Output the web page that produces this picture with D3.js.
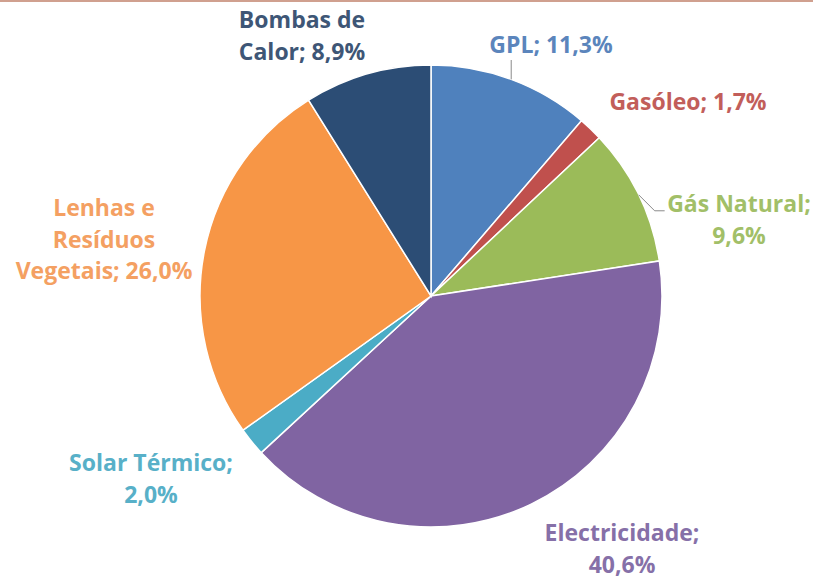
<!DOCTYPE html>
<html>
<head>
<meta charset="utf-8">
<script src="https://cdn.jsdelivr.net/npm/d3@7"></script>
<style>
	body { margin: 0; background: #fff; }
	svg { display: block; }
</style>
</head>
<body>
<div id="chart"></div>
<script>
var categories = ["GPL", "Gasóleo", "Gás Natural", "Electricidade", "Solar Térmico", "Lenhas e Resíduos Vegetais", "Bombas de Calor"];
var values = [11.3, 1.7, 9.6, 40.6, 2.0, 26.0, 8.9];
var valueLabels = ["11,3%", "1,7%", "9,6%", "40,6%", "2,0%", "26,0%", "8,9%"];
var colors = ["#4F81BD", "#C0504D", "#9BBB59", "#8064A2", "#4BACC6", "#F79646", "#2C4D75"];
var textColors = ["#5B85BC", "#C25E5A", "#A2BF68", "#8670A8", "#58B0C8", "#F4A062", "#3E5676"];

// label layout, as the labels were moved by hand in the original
var labelLines = [
	["GPL; 11,3%"],
	["Gasóleo; 1,7%"],
	["Gás Natural;", "9,6%"],
	["Electricidade;", "40,6%"],
	["Solar Térmico;", "2,0%"],
	["Lenhas e", "Resíduos", "Vegetais; 26,0%"],
	["Bombas de", "Calor; 8,9%"]
];
var labelAt = [[551, 53], [688, 110], [739, 212], [622, 541], [151, 471], [104, 216], [302, 28]];

var width = 813, height = 581;
var cx = 431, cy = 296, radius = 231;

var svg = d3.select("#chart").append("svg")
	.attr("width", width)
	.attr("height", height);

svg.append("line")
	.attr("x1", 0).attr("x2", width)
	.attr("y1", 1).attr("y2", 1)
	.attr("stroke", "#C0806A")
	.attr("stroke-width", 1.5);

var pie = d3.pie().sort(null).value(function(d) { return d; });
var arc = d3.arc().innerRadius(0).outerRadius(radius);
var arcs = pie(values);

var g = svg.append("g").attr("transform", "translate(" + cx + "," + cy + ")");

g.selectAll("path")
	.data(arcs)
	.enter().append("path")
	.attr("d", arc)
	.attr("fill", function(d, i) { return colors[i]; })
	.attr("stroke", "#fff")
	.attr("stroke-width", 1.5);

// leader lines for GPL and Gás Natural
function edgePoint(d, frac) {
	var a = d.startAngle + (d.endAngle - d.startAngle) * frac;
	return [cx + Math.sin(a) * radius, cy - Math.cos(a) * radius];
}
var gplEdge = edgePoint(arcs[0], 0.5);
svg.append("polyline")
	.attr("points", [[gplEdge[0], gplEdge[1]], [gplEdge[0], 60]].join(" "))
	.attr("fill", "none").attr("stroke", "#8a8a8a").attr("stroke-width", 1);

var gnEdge = edgePoint(arcs[2], 0.5);
svg.append("polyline")
	.attr("points", [[gnEdge[0], gnEdge[1]], [gnEdge[0] + 16, gnEdge[1] + 16], [gnEdge[0] + 26, gnEdge[1] + 16]].join(" "))
	.attr("fill", "none").attr("stroke", "#8a8a8a").attr("stroke-width", 1);

var labels = svg.selectAll(".lbl")
	.data(arcs)
	.enter().append("text")
	.attr("class", "lbl")
	.attr("text-anchor", "middle")
	.attr("font-family", "'Open Sans', sans-serif")
	.attr("font-weight", "bold")
	.attr("font-size", 23)
	.attr("fill", function(d, i) { return textColors[i]; })
	.attr("x", function(d, i) { return labelAt[i][0]; })
	.attr("y", function(d, i) { return labelAt[i][1]; });

labels.each(function(d, i) {
	var t = d3.select(this);
	labelLines[i].forEach(function(line, j) {
		t.append("tspan")
			.attr("x", labelAt[i][0])
			.attr("dy", j === 0 ? 0 : 31.5)
			.text(line);
	});
});
</script>
</body>
</html>
